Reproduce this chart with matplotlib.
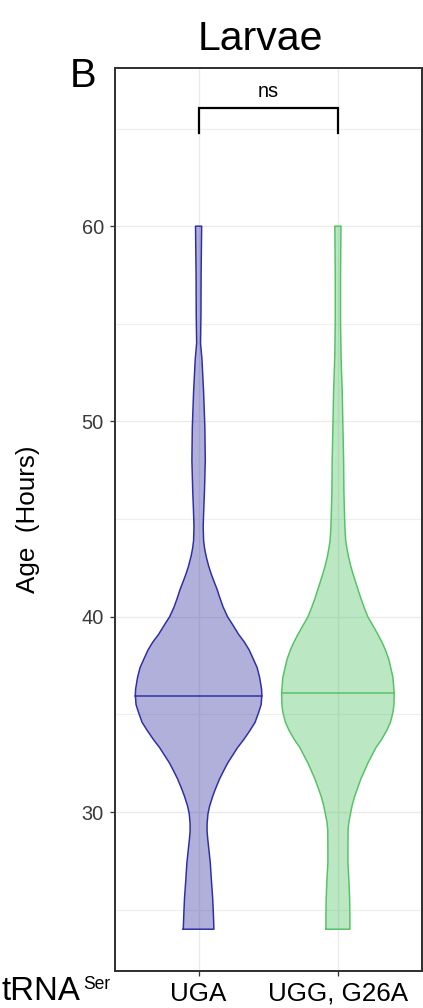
"""
Larvae age violins for the two tRNA-Ser variants (panel B).
"""

import numpy as np
import matplotlib
matplotlib.use('Agg')
import matplotlib.pyplot as plt

plt.rcParams['font.family'] = ['Liberation Sans', 'DejaVu Sans']

# ── data ──
groups = ["UGA", "UGG, G26A"]
medians = [35.95, 36.1]

# violin outline: age (hours) and half-width (x units)
uga_age = [24.0, 24.8, 25.6, 26.5, 27.4, 28.2, 28.6, 29.0, 29.4, 29.9, 30.3, 30.8,
           31.2, 31.7, 32.1, 32.5, 32.9, 33.3, 33.7, 34.2, 34.6, 35.1, 35.5, 36.0,
           36.3, 36.9, 37.4, 37.8, 38.3, 38.7, 39.1, 39.6, 40.0, 40.5, 41.0, 41.4,
           41.8, 42.2, 42.6, 43.1, 43.5, 43.9, 44.6, 45.5, 46.4, 48.0, 49.7, 51.5,
           53.2, 54.0, 55.5, 57.5, 60.0]
uga_half = [0.110, 0.106, 0.101, 0.092, 0.084, 0.072, 0.066, 0.061, 0.061, 0.067,
            0.079, 0.101, 0.122, 0.151, 0.179, 0.208, 0.244, 0.280, 0.323, 0.371,
            0.406, 0.431, 0.449, 0.454, 0.452, 0.438, 0.420, 0.395, 0.363, 0.329,
            0.287, 0.244, 0.208, 0.176, 0.151, 0.133, 0.111, 0.090, 0.072, 0.054,
            0.043, 0.036, 0.033, 0.037, 0.042, 0.048, 0.045, 0.036, 0.024, 0.014,
            0.017, 0.018, 0.022]

ugg_age = [24.0, 24.8, 25.6, 26.5, 27.4, 28.2, 29.1, 29.5, 29.9, 30.3, 30.8, 31.2,
           31.7, 32.1, 32.5, 32.9, 33.3, 33.7, 34.2, 34.6, 35.1, 35.5, 36.1, 36.9,
           37.8, 38.3, 38.7, 39.1, 39.5, 40.0, 40.5, 41.0, 41.4, 41.8, 42.2, 42.6,
           43.1, 43.5, 43.9, 44.6, 46.4, 48.0, 49.7, 51.5, 53.2, 55.0, 57.5, 60.0]
ugg_half = [0.086, 0.086, 0.084, 0.079, 0.072, 0.072, 0.073, 0.079, 0.090, 0.101,
            0.120, 0.140, 0.165, 0.190, 0.215, 0.244, 0.273, 0.312, 0.352, 0.377,
            0.395, 0.402, 0.404, 0.395, 0.366, 0.341, 0.316, 0.287, 0.255, 0.215,
            0.187, 0.162, 0.144, 0.126, 0.108, 0.092, 0.075, 0.065, 0.056, 0.050,
            0.043, 0.041, 0.036, 0.031, 0.023, 0.019, 0.019, 0.022]

profiles = [(uga_age, uga_half), (ugg_age, ugg_half)]
line_colors = ["#2E2EA6", "#55C266"]
fill_colors = ["#1F1F99", "#3CBE50"]

W, H = 423, 1008
fig = plt.figure(figsize=(W / 72, H / 72), dpi=72)
ax = fig.add_axes([115 / W, 1 - 971 / H, 306.5 / W, 903 / H])

# ── grid & frame (theme_bw look) ──
ax.set_xlim(0.4, 2.6)
ax.set_ylim(21.86, 68.1)
ax.set_yticks([30, 40, 50, 60])
ax.set_yticks([25, 35, 45, 55, 65], minor=True)
ax.set_xticks([1, 2])
ax.grid(True, which='major', color='#EBEBEB', linewidth=1.4, zorder=0)
ax.grid(True, which='minor', axis='y', color='#EFEFEF', linewidth=1.2, zorder=0)
ax.set_axisbelow(True)
for sp in ax.spines.values():
    sp.set_linewidth(2)
    sp.set_color('#333333')
ax.tick_params(axis='both', which='major', length=5, width=1.3, color='#333333')
ax.tick_params(axis='y', which='minor', length=0)
ax.tick_params(axis='y', labelsize=20, labelcolor='#3A3A3A', pad=6)
ax.tick_params(axis='x', labelsize=26, labelcolor='black', pad=6)
ax.set_xticklabels(groups)

# ── violins ──
for i, (age, half) in enumerate(profiles):
    pos = i + 1
    age = np.array(age)
    half = np.array(half)
    xs = np.concatenate([pos - half, (pos + half)[::-1]])
    ys = np.concatenate([age, age[::-1]])
    ax.fill(xs, ys, color=fill_colors[i], alpha=0.35, linewidth=0, zorder=2)
    ax.plot(np.append(xs, xs[0]), np.append(ys, ys[0]), color=line_colors[i],
            linewidth=1.5, solid_joinstyle='round', zorder=3)
    hw = np.interp(medians[i], age, half)
    ax.plot([pos - hw, pos + hw], [medians[i], medians[i]], color=line_colors[i],
            linewidth=1.5, zorder=3)

# ── significance bracket ──
ax.plot([1, 1, 2, 2], [64.78, 66.07, 66.07, 64.78], color='black', linewidth=2.2,
        solid_joinstyle='miter', zorder=4)
ax.text(1.5, 66.6, "ns", ha='center', va='baseline', fontsize=20)

# ── labels ──
fig.text(260 / W, 1 - 50 / H, "Larvae", ha='center', va='baseline', fontsize=41)
fig.text(70 / W, 1 - 87 / H, "B", ha='left', va='baseline', fontsize=40)
fig.text(28.5 / W, 1 - 519 / H, "Age  (Hours)", rotation=90, ha='center',
         va='center', fontsize=26)
fig.text(2 / W, 1 - 1000 / H, "tRNA", ha='left', va='baseline', fontsize=33)
fig.text(83 / W, 1 - 989 / H, "Ser", ha='left', va='baseline', fontsize=17.5)

fig.savefig("out.png", dpi=72)
plt.close(fig)
